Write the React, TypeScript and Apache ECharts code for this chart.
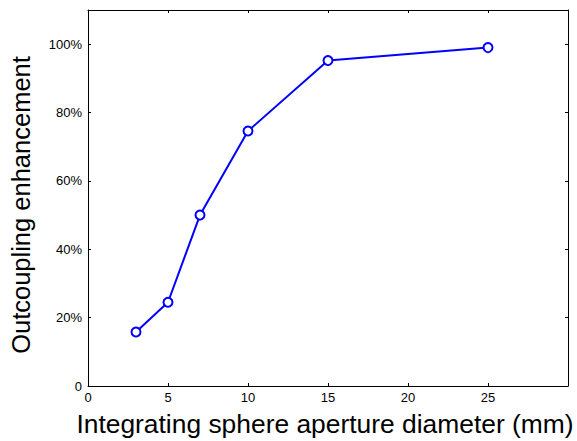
import React, { useEffect, useRef } from "react";
import * as echarts from "echarts";

const apertureMm = [3, 5, 7, 10, 15, 25];
const enhancementPct = [15.8, 24.5, 50, 74.6, 95.2, 99];
const xTicks = [0, 5, 10, 15, 20, 25];
const yTickLabels = ["0", "20%", "40%", "60%", "80%", "100%"];

const FONT = "Liberation Sans, Arial, sans-serif";

export default function App() {
  const ref = useRef<HTMLDivElement>(null);
  useEffect(() => {
    if (!ref.current) return;
    const chart = echarts.init(ref.current, null, { renderer: "svg" });
    const axisLine = { show: true, onZero: false, lineStyle: { color: "#000", width: 1 } };
    const tick = { show: true, inside: true, length: 3, lineStyle: { color: "#000" } };
    chart.setOption({
      animation: false,
      backgroundColor: "#fff",
      grid: {
        left: 88,
        top: 10,
        right: 9,
        bottom: 55,
        containLabel: false,
        outerBoundsMode: "none",
      },
      xAxis: [
        {
          type: "value",
          min: 0,
          max: 30,
          interval: 5,
          name: "Integrating sphere aperture diameter (mm)",
          nameLocation: "middle",
          nameGap: 25,
          nameTextStyle: { fontFamily: FONT, fontSize: 26.4, color: "#000", padding: [0, 6, 0, 0] },
          axisLine,
          axisTick: tick,
          axisLabel: {
            fontFamily: FONT,
            fontSize: 13,
            color: "#000",
            margin: 5,
            formatter: (v: number) => (xTicks.includes(v) ? String(v) : ""),
          },
          splitLine: { show: false },
        },
        {
          type: "value",
          position: "top",
          min: 0,
          max: 30,
          interval: 5,
          axisLine,
          axisTick: tick,
          axisLabel: { show: false },
          splitLine: { show: false },
        },
      ],
      yAxis: [
        {
          type: "value",
          min: 0,
          max: 110,
          interval: 20,
          name: "Outcoupling enhancement",
          nameLocation: "middle",
          nameGap: 54,
          nameTextStyle: { fontFamily: FONT, fontSize: 25.5, color: "#000", padding: [0, 14, 0, 0] },
          axisLine,
          axisTick: tick,
          axisLabel: {
            fontFamily: FONT,
            fontSize: 13,
            color: "#000",
            margin: 6,
            formatter: (v: number) => {
              const i = Math.round(v / 20);
              return v % 20 === 0 && i < yTickLabels.length ? yTickLabels[i] : "";
            },
          },
          splitLine: { show: false },
        },
        {
          type: "value",
          position: "right",
          min: 0,
          max: 110,
          interval: 20,
          axisLine,
          axisTick: tick,
          axisLabel: { show: false },
          splitLine: { show: false },
        },
      ],
      series: [
        {
          type: "line",
          data: apertureMm.map((x, i) => [x, enhancementPct[i]]),
          symbol: "emptyCircle",
          symbolSize: 9,
          lineStyle: { color: "#0000ff", width: 2 },
          itemStyle: { color: "#0000ff", borderColor: "#0000ff", borderWidth: 2 },
        },
      ],
    });
    return () => chart.dispose();
  }, []);
  return <div ref={ref} style={{ width: 577, height: 441, position: "absolute", left: 0, top: 0 }} />;
}
